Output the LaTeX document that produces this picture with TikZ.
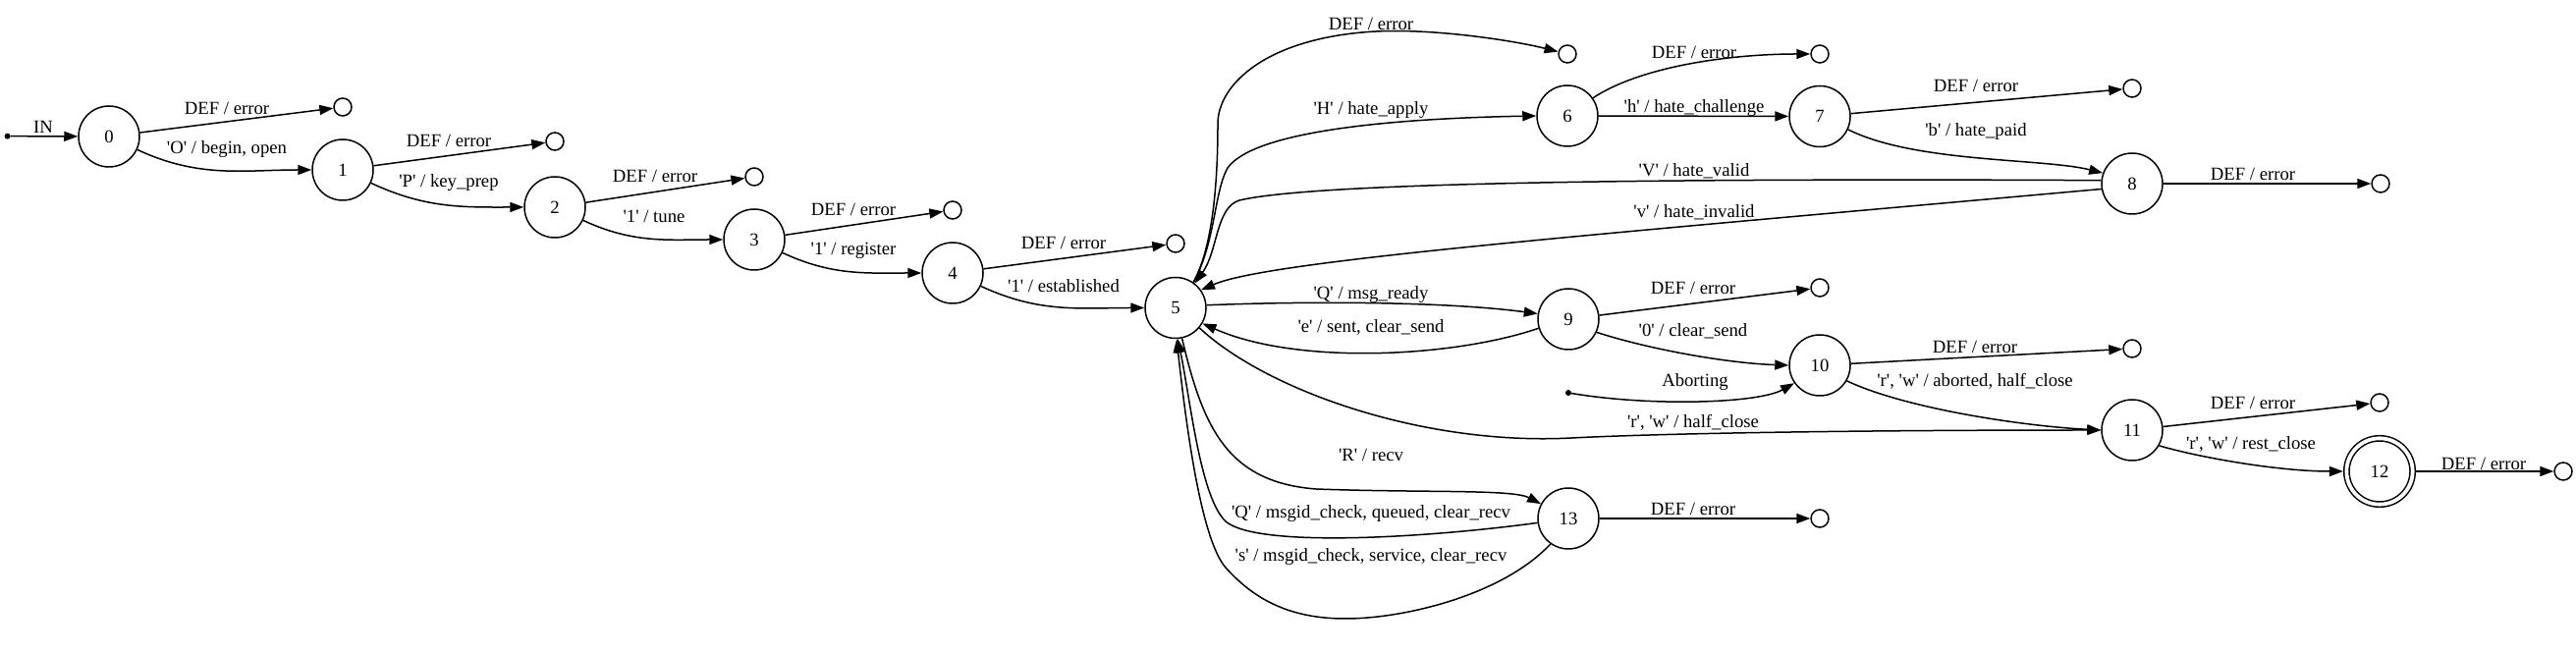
\documentclass[tikz,border=0pt]{standalone}
\usepackage{fontspec}
\setmainfont{Liberation Serif}
\usetikzlibrary{arrows.meta}
\newcommand\inp[1]{\textquotesingle#1\textquotesingle}
\tikzset{
	state/.style={circle, draw, line width=1.5pt, minimum size=62pt, inner sep=0pt},
	accept/.style={state, double, double distance=3.8pt, minimum size=67.3pt, outer sep=3.4pt},
	sink/.style={circle, draw, line width=1.5pt, minimum size=18pt, inner sep=0pt},
	entry/.style={circle, fill, minimum size=6pt, inner sep=0pt},
	trans/.style={line width=1.5pt, -{Triangle[length=14pt, width=10pt]}}
}

\begin{document}
\begin{tikzpicture}[x=1pt, y=1pt, font=\fontsize{18.7}{22}\selectfont]
		\useasboundingbox (0, 0) rectangle (2623, 666);
		% states
		\foreach \n/\x/\y in {0/111/527, 1/349/493, 2/565/455, 3/768/422, 4/970/388, 5/1197/352.5, 6/1596/548, 7/1853/547.5, 8/2171/479, 9/1597/341, 10/1853/294, 11/2171/228, 13/1597/138}
			\node[state] (n\n) at (\x, \y) {\n};
		\node[accept] (n12) at (2423, 186) {12};
		\node[entry] (in0) at (7.6, 527.3) {};
		\node[entry] (inA) at (1597, 266) {};
		% error sinks
		\foreach \n/\x/\y in {0/349/557, 1/565/522, 2/768/486, 3/970/452, 4/1197/418, 5/1596/611, 6/1853/611, 7/2171/576, 8/2424/479, 9/1853/373, 10/2171/311, 11/2423/256, 12/2610/186, 13/1853/138}
			\node[sink] (e\n) at (\x, \y) {};
		\foreach \n/\x/\y in {0/231/556, 1/457/523, 2/667/487, 3/869/453, 4/1083/419, 7/2012/579, 8/2294/489, 9/1724/373, 10/2011/313, 11/2294/256, 12/2529/194, 13/1724/148} {
			\draw[trans] (n\n) -- (e\n);
			\node (d\n) at (\x, \y) {DEF / error};
		}
		\draw[trans] (n5.55) .. controls (1238, 420) and (1240, 500) .. (1240, 540) .. controls (1240, 580) and (1290, 628) .. (1401, 634) .. controls (1460, 637) and (1540, 625) .. (e5);
		\node (d5) at (1396, 642) {DEF / error};
		\draw[trans] (n6.35) .. controls (1670, 598) and (1760, 611) .. (e6);
		\node (d6) at (1725, 613) {DEF / error};
		% handshake
		\draw[trans] (in0) -- (n0);
		\node (lin) at (44, 537) {IN};
		\foreach \a/\b in {0/1, 1/2, 2/3, 3/4, 4/5}
			\draw[trans] (n\a) to[out=-25, in=180] (n\b);
		\node (l01) at (231, 514) {\inp{O} / begin, open};
		\node (l12) at (457, 480) {\inp{P} / key\_prep};
		\node (l23) at (666, 446) {\inp{1} / tune};
		\node (l34) at (869, 411) {\inp{1} / register};
		\node (l45) at (1083, 375) {\inp{1} / established};
		% hate
		\draw[trans] (n5.55) .. controls (1238, 420) and (1236, 470) .. (1250, 495) .. controls (1275, 530) and (1400, 545) .. (n6.west);
		\node (l56) at (1396, 554) {\inp{H} / hate\_apply};
		\draw[trans] (n6) -- (n7);
		\node (l67) at (1725, 556) {\inp{h} / hate\_challenge};
		\draw[trans] (n7.-25) .. controls (1950, 500) and (2080, 505) .. (n8.160);
		\node (l78) at (2012, 532) {\inp{b} / hate\_paid};
		\draw[trans] (n8.174) .. controls (1800, 484) and (1350, 483) .. (1262, 462) .. controls (1238, 455) and (1240, 410) .. (n5.52);
		\node (l85a) at (1725, 492) {\inp{V} / hate\_valid};
		\draw[trans] (n8.190) .. controls (1600, 425) and (1290, 400) .. (n5.35);
		\node (l85b) at (1725, 450) {\inp{v} / hate\_invalid};
		% send
		\draw[trans] (n5.5) .. controls (1350, 360) and (1480, 358) .. (n9.170);
		\node (l59) at (1396, 366) {\inp{Q} / msg\_ready};
		\draw[trans] (n9.197) .. controls (1480, 302) and (1320, 294) .. (n5.-30);
		\node (l95) at (1396, 333) {\inp{e} / sent, clear\_send};
		\draw[trans] (n9.-25) .. controls (1680, 310) and (1760, 296) .. (n10.west);
		\node (l910) at (1724, 329) {\inp{0} / clear\_send};
		\draw[trans] (inA) .. controls (1680, 252) and (1790, 255) .. (n10.-145);
		\node (lab) at (1726, 277) {Aborting};
		% close
		\draw[trans] (n10.-30) .. controls (1940, 250) and (2060, 232) .. (n11.west);
		\node (l1011) at (2011, 278) {\inp{r}, \inp{w} / aborted, half\_close};
		\draw[trans] (n5.-40) .. controls (1290, 268) and (1450, 212) .. (1600, 220) .. controls (1700, 225) and (1900, 228) .. (n11.west);
		\node (l511) at (1724, 236) {\inp{r}, \inp{w} / half\_close};
		\draw[trans] (n11.-30) .. controls (2240, 200) and (2320, 186) .. (n12.west);
		\node (l1112) at (2292, 214) {\inp{r}, \inp{w} / rest\_close};
		% receive
		\draw[trans] (n5.-78) .. controls (1225, 230) and (1250, 175) .. (1340, 168) .. controls (1450, 164) and (1540, 168) .. (n13.152);
		\node (l513) at (1396, 203) {\inp{R} / recv};
		\draw[trans] (n13.188) .. controls (1450, 118) and (1280, 108) .. (1248, 135) .. controls (1222, 160) and (1212, 260) .. (n5.-86);
		\node (l135a) at (1396, 143) {\inp{Q} / msgid\_check, queued, clear\_recv};
		\draw[trans] (n13.-125) .. controls (1530, 60) and (1430, 36) .. (1370, 36) .. controls (1310, 36) and (1275, 58) .. (1248, 88) .. controls (1222, 118) and (1207, 240) .. (n5.-88);
		\node (l135b) at (1396, 99) {\inp{s} / msgid\_check, service, clear\_recv};
	\end{tikzpicture}
\end{document}
